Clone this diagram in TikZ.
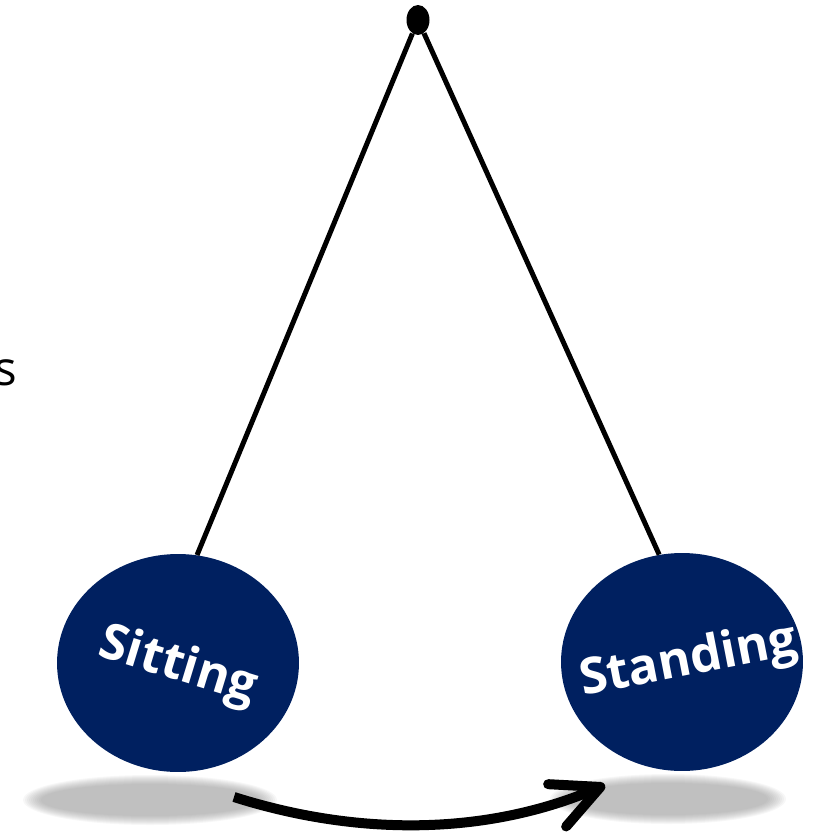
\documentclass[tikz,border=0pt]{standalone}
\usepackage{fontspec}
\setmainfont{Open Sans}
\usetikzlibrary{shapes.geometric,arrows.meta,positioning}
\definecolor{ballnavy}{RGB}{0,32,96}

\begin{document}
\begin{tikzpicture}[x=0.02cm, y=-0.02cm,
    ball/.style={ellipse, fill=ballnavy, inner sep=0pt,
                 minimum width=4.84cm, minimum height=4.36cm},
    balltext/.style={text=white, inner sep=0pt, font=\fontsize{28.5}{34}\selectfont\bfseries},
    pivotdot/.style={ellipse, fill=black, inner sep=0pt,
                     minimum width=0.46cm, minimum height=0.6cm},
    rope/.style={line width=0.1cm, black},
    swing/.style={line width=0.2cm, black,
                  -{Straight Barb[length=0.94cm, width=0.92cm, round]}}]
\useasboundingbox (0,0) rectangle (818,832);

% shadows
\foreach \k in {0,...,9} {
  \fill[gray, opacity=0.065] (150,800) ellipse ({127-2*\k} and {25-\k});
  \fill[gray, opacity=0.065] (668,799) ellipse ({118-2*\k} and {25-\k});
}

% balls
\node[ball] (sitting) at (178,663) {};
\node[ball] (standing) at (682,662) {};
\node[balltext, rotate=-17] (sitlabel) at ([yshift=-0.08cm]sitting.center) {Sitting};
\node[balltext, rotate=11] (standlabel) at ([xshift=0.14cm]standing.center) {Standing};

% pendulum
\node[pivotdot] (pivot) at (418,20) {};
\draw[rope] (pivot) -- (sitting.80);
\draw[rope] (pivot) -- (standing.102);

% swing arrow
\coordinate (arrstart) at (234,797);
\coordinate (arrend) at (605,785);
\draw[swing] (arrstart) .. controls (357,836) and (485,836) .. (arrend);

\node[anchor=base east, inner sep=0pt, font=\fontsize{27}{32}\selectfont] (cutword) at (17,385) {s};
\end{tikzpicture}
\end{document}
